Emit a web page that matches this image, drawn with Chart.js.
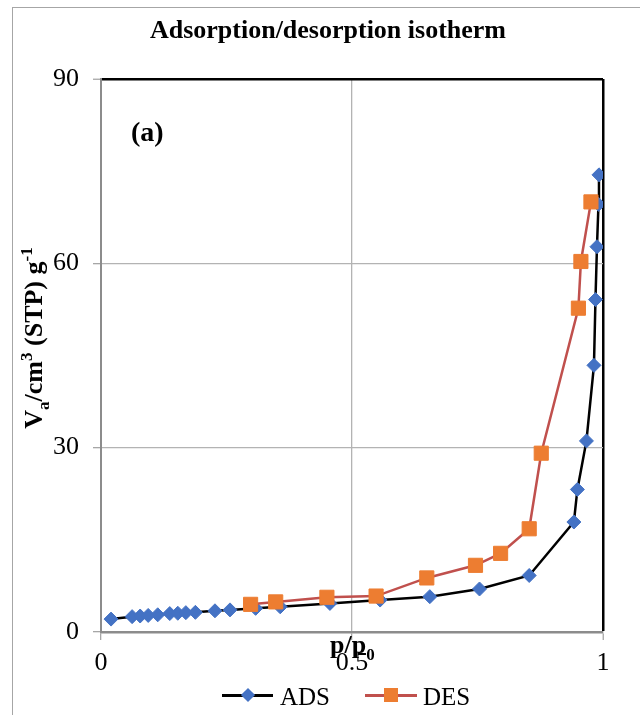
<!DOCTYPE html>
<html><head><meta charset="utf-8">
<script src="https://cdn.jsdelivr.net/npm/chart.js@4.4.1/dist/chart.umd.min.js"></script>
<style>
html,body{margin:0;padding:0;background:#fff;}
#wrap{position:relative;width:640px;height:715px;overflow:hidden;font-family:"Liberation Serif","Times New Roman",serif;color:#000;}
#frame{position:absolute;left:12px;top:7px;width:700px;height:800px;border-left:1px solid #a6a6a6;border-top:1px solid #a6a6a6;}
canvas{position:absolute;left:0;top:0;}
.t{position:absolute;white-space:nowrap;line-height:1;}
#ytitle{position:absolute;width:300px;height:30px;line-height:30px;text-align:center;font-size:26px;font-weight:bold;white-space:nowrap;transform:rotate(-90deg);transform-origin:50% 50%;}
.sub{font-size:17px;position:relative;top:7px;}
.sup{font-size:17px;position:relative;top:-10px;}
.leg{position:absolute;}
</style></head><body>
<div id="wrap">
<div id="frame"></div>
<canvas id="c" width="640" height="715"></canvas>
<div class="t" style="left:0;width:656px;text-align:center;top:17px;font-size:26px;font-weight:bold;">Adsorption/desorption isotherm</div>
<div class="t" style="left:131px;top:118px;font-size:28px;font-weight:bold;">(a)</div>
<div class="t" style="left:330px;top:632px;font-size:26px;font-weight:bold;">p/p<span class="sub">0</span></div>
<div id="ytitle" style="left:-116px;top:323px;">V<span class="sub">a</span>/cm<span class="sup">3</span> (STP) g<span class="sup">-1</span></div>
<!-- legend -->
<div class="leg" style="left:222px;top:694px;width:51px;height:2.5px;background:#000;"></div>
<div class="leg" style="left:243px;top:690px;width:10px;height:10px;background:#4472C4;transform:rotate(45deg);"></div>
<div class="t" style="left:280px;top:684px;font-size:25px;">ADS</div>
<div class="leg" style="left:365px;top:694px;width:52px;height:2.5px;background:#C0504D;"></div>
<div class="leg" style="left:384px;top:688px;width:14px;height:14px;background:#ED7D31;"></div>
<div class="t" style="left:423px;top:684px;font-size:25px;">DES</div>
</div>
<script>
const adsX = [0.02,0.062,0.078,0.094,0.113,0.137,0.153,0.169,0.188,0.227,0.257,0.308,0.357,0.456,0.556,0.655,0.754,0.853,0.942,0.949,0.967,0.982,0.985,0.988,0.991,0.992];
const adsY = [2.1,2.5,2.6,2.7,2.8,3.0,3.05,3.15,3.2,3.45,3.6,3.85,4.1,4.65,5.2,5.75,7.0,9.2,17.9,23.2,31.1,43.4,54.1,62.7,69.6,74.4];
const desX = [0.298,0.348,0.45,0.548,0.649,0.746,0.796,0.853,0.877,0.951,0.956,0.976];
const desY = [4.5,4.9,5.65,5.85,8.8,10.85,12.8,16.8,29.1,52.7,60.3,70.0];
const xTickValues = [0,0.5,1];
const yTickValues = [0,30,60,90];

const toPts = (xs, ys) => xs.map((x, i) => ({x: x, y: ys[i]}));
const tickFont = {family: 'Liberation Serif', size: 26};

new Chart(document.getElementById('c'), {
  type: 'line',
  data: {
    datasets: [
      {label: 'ADS', data: toPts(adsX, adsY), order: 2, borderColor: '#000', borderWidth: 2.5,
       pointStyle: 'rectRot', pointRadius: 7, pointBackgroundColor: '#4472C4', pointBorderColor: '#4472C4', pointBorderWidth: 1, tension: 0, fill: false},
      {label: 'DES', data: toPts(desX, desY), order: 1, borderColor: '#C0504D', borderWidth: 2.5,
       pointStyle: 'rect', pointRadius: 10, pointBackgroundColor: '#ED7D31', pointBorderColor: '#ED7D31', pointBorderWidth: 1, tension: 0, fill: false}
    ]
  },
  options: {
    responsive: false, animation: false, devicePixelRatio: 1,
    layout: {padding: {left: 0, right: 37, top: 79, bottom: 0}},
    plugins: {legend: {display: false}, title: {display: false}, tooltip: {enabled: false}},
    scales: {
      x: {
        type: 'linear', min: 0, max: 1,
        afterBuildTicks: s => { s.ticks = xTickValues.map(v => ({value: v})); },
        afterFit: s => { s.height = 83; },
        ticks: {font: tickFont, color: '#000', padding: 8, maxRotation: 0, autoSkip: false, callback: v => String(v)},
        grid: {color: c => (c.tick && c.tick.value === 1) ? '#000' : '#b3b3b3',
               lineWidth: c => (c.tick && c.tick.value === 1) ? 2.5 : 1.3,
               tickColor: '#a6a6a6', tickLength: 8, tickWidth: 1.3},
        border: {display: true, color: '#8c8c8c', width: 2.5}
      },
      y: {
        type: 'linear', min: 0, max: 90,
        afterBuildTicks: s => { s.ticks = yTickValues.map(v => ({value: v})); },
        afterFit: s => { s.width = 101; },
        ticks: {font: tickFont, color: '#000', padding: 14, callback: v => String(v)},
        grid: {color: c => (c.tick && c.tick.value === 90) ? '#000' : '#b3b3b3',
               lineWidth: c => (c.tick && c.tick.value === 90) ? 2.5 : 1.3,
               tickColor: '#a6a6a6', tickLength: 8, tickWidth: 1.3},
        border: {display: true, color: '#8c8c8c', width: 2}
      }
    }
  }
});
</script>
</body></html>
